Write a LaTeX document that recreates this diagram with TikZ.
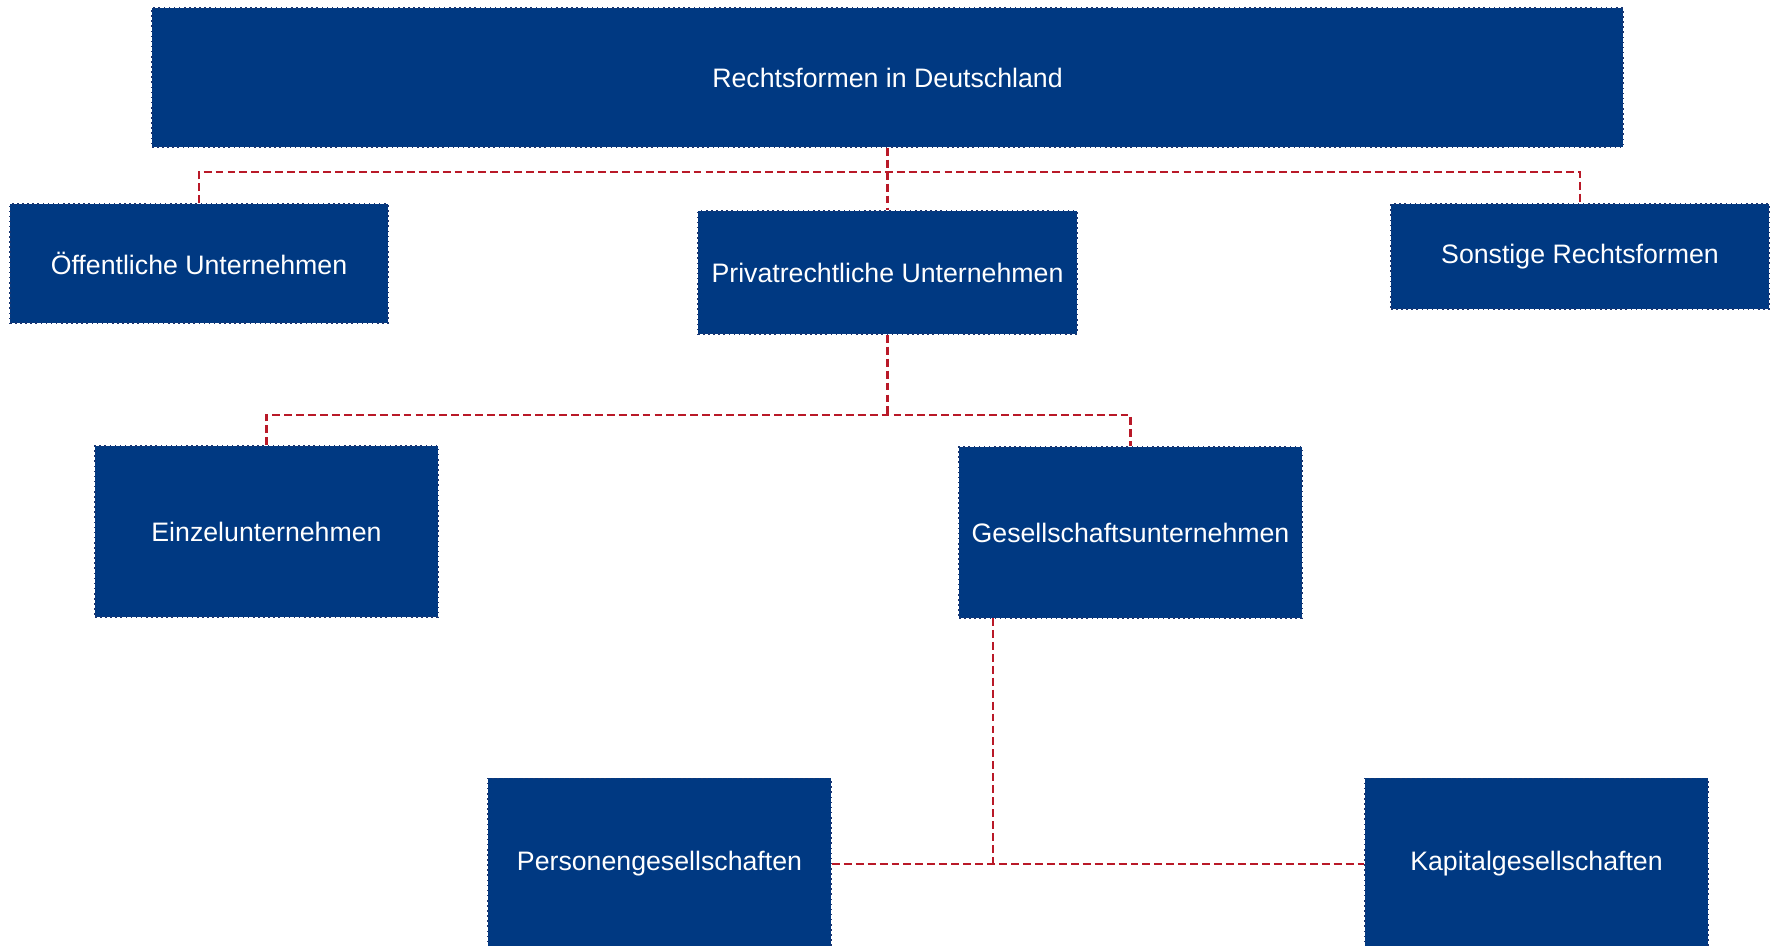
\documentclass[tikz,border=0pt]{standalone}
\usepackage{fontspec}
\setmainfont{Liberation Sans}
\definecolor{boxblue}{RGB}{0,57,130}
\definecolor{boxedge}{RGB}{25,55,115}
\definecolor{linkred}{RGB}{185,25,40}
\tikzset{
  formbox/.style={rectangle, draw=boxedge, dotted, line width=0.9pt,
    fill=boxblue, text=white, inner sep=0pt,
    font=\fontsize{15.2}{18}\selectfont},
  link/.style={draw=linkred, line width=1.2pt, dash pattern=on 4.5pt off 2.3pt}
}
\begin{document}
\begin{tikzpicture}
  \useasboundingbox (0, 0) rectangle (35.5, 18.92);

  % Top
  \node [formbox, minimum width=29.42cm, minimum height=2.78cm]
        (top) at (17.75, 17.37) {Rechtsformen in Deutschland};

  % Second row
  \node [formbox, minimum width=7.56cm, minimum height=2.38cm]
        (oeff) at (3.98, 13.65) {Öffentliche Unternehmen};
  \node [formbox, minimum width=7.58cm, minimum height=2.46cm]
        (privat) at (17.75, 13.47) {Privatrechtliche Unternehmen};
  \node [formbox, minimum width=7.56cm, minimum height=2.1cm]
        (sonst) at (31.6, 13.79) {Sonstige Rechtsformen};

  % Third row
  \node [formbox, minimum width=6.86cm, minimum height=3.42cm]
        (einzel) at (5.33, 8.29) {Einzelunternehmen};
  \node [formbox, minimum width=6.86cm, minimum height=3.42cm]
        (gesell) at (22.61, 8.27) {Gesellschaftsunternehmen};

  % Bottom row
  \node [formbox, minimum width=6.86cm, minimum height=3.42cm]
        (personen) at (13.19, 1.64) {Personengesellschaften};
  \node [formbox, minimum width=6.86cm, minimum height=3.42cm]
        (kapital) at (30.73, 1.64) {Kapitalgesellschaften};

  % Edges
  \coordinate (busA) at (17.75, 15.48);
  \coordinate (busB) at (17.75, 10.62);
  \coordinate (gesB) at (19.86, 6.56);
  \draw [link] (top.south) -- (privat.north);
  \draw [link] (oeff.north) |- (busA) -| (sonst.north);
  \draw [link] (privat.south) -- (busB);
  \draw [link] (einzel.north) |- (busB) -| (gesell.north);
  \draw [link] (personen.east) -- (kapital.west);
  \draw [link] (gesB) -- (gesB |- personen.east);
\end{tikzpicture}
\end{document}
